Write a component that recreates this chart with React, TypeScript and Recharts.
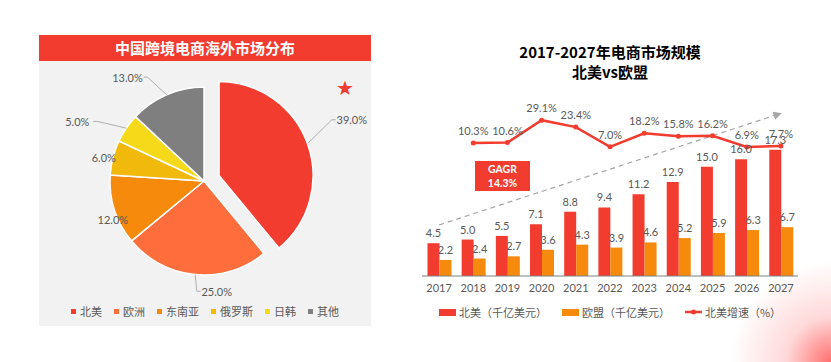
import {
  PieChart,
  Pie,
  Cell,
  Legend,
  ComposedChart,
  Bar,
  Line,
  XAxis,
  YAxis,
  LabelList,
  ReferenceLine,
} from "recharts";

// pie: overseas market shares (%)
const regions = ["北美", "欧洲", "东南亚", "俄罗斯", "日韩", "其他"];
const shares = [39, 25, 12, 6, 5, 13];
const regionColors = ["#f23c2f", "#fd6e3c", "#f58a0c", "#f1b90c", "#f6d918", "#7f7f7f"];

// bar/line: market size 2017-2027
const years = ["2017", "2018", "2019", "2020", "2021", "2022", "2023", "2024", "2025", "2026", "2027"];
const naSize = [4.5, 5.0, 5.5, 7.1, 8.8, 9.4, 11.2, 12.9, 15.0, 16.0, 17.3];
const euSize = [2.2, 2.4, 2.7, 3.6, 4.3, 3.9, 4.6, 5.2, 5.9, 6.3, 6.7];
const naGrowth = [null, 10.3, 10.6, 29.1, 23.4, 7.0, 18.2, 15.8, 16.2, 6.9, 7.7];
const seriesNames = ["北美（千亿美元）", "欧盟（千亿美元）", "北美增速（%）"];
const cagrText = ["GAGR", "14.3%"];
// dashed trend arrow (left axis values)
const trendStart = 7.0;
const trendEnd = 22.3;

// label placement for pie (radius from centre, angle shift in degrees)
const labelRadius = [144, 111, 99, 103, 140, 129];
const labelShift = [3, 12, 5, 1, 9, 13];

const RED = "#f23c2f";
const ORANGE = "#f58a0c";
const GREY = "#595959";
const NUM_FONT = "Lato, 'Noto Sans CJK SC', sans-serif";
const CJK_FONT = "'Noto Sans CJK SC', sans-serif";
const RAD = Math.PI / 180;

const pieRest = regions.slice(1).map((name, i) => ({ name, value: shares[i + 1] }));
const pieMain = [{ name: regions[0], value: shares[0] }];
const mainSweep = (360 * shares[0]) / 100;

const barData = years.map((year, i) => ({
  year,
  na: naSize[i],
  eu: euSize[i],
  growth: naGrowth[i],
}));

const PIE_CX = 165;
const PIE_CY = 120;
const PIE_R = 94;
const EXPLODE = 16;
const mainMid = 90 - mainSweep / 2;

const renderPieLabel = (props: any) => {
  const { cx, cy, midAngle, outerRadius, value } = props;
  const name = props.name ?? props.payload?.name;
  const idx = regions.indexOf(name);
  const r = labelRadius[idx];
  const a = midAngle + labelShift[idx];
  const lx = cx + r * Math.cos(-a * RAD);
  const ly = cy + r * Math.sin(-a * RAD);
  const right = lx > cx;
  const sx = cx + outerRadius * Math.cos(-midAngle * RAD);
  const sy = cy + outerRadius * Math.sin(-midAngle * RAD);
  const ex = right ? lx - 16 : lx + 16;
  const elx = right ? ex - 4 : ex + 4;
  return (
    <g>
      {r - outerRadius > 12 && (
        <polyline
          points={`${sx},${sy} ${elx},${ly} ${ex},${ly}`}
          fill="none"
          stroke="#a6a6a6"
          strokeWidth={0.9}
        />
      )}
      <text
        x={lx}
        y={ly}
        textAnchor="middle"
        dominantBaseline="central"
        fill={GREY}
        fontSize={11}
        fontFamily={NUM_FONT}
      >
        {`${Number(value).toFixed(1)}%`}
      </text>
    </g>
  );
};

const PieLegend = ({ payload }: any) => {
  const items = [...(payload || [])].sort(
    (a: any, b: any) => regions.indexOf(a.value) - regions.indexOf(b.value)
  );
  return (
    <div style={{ display: "flex", justifyContent: "center", alignItems: "center" }}>
      {items.map((p: any, i: number) => (
        <div
          key={p.value}
          style={{ display: "flex", alignItems: "center", marginLeft: i ? 12 : 0 }}
        >
          <span style={{ width: 5, height: 5, background: p.color, marginRight: 4 }} />
          <span style={{ fontSize: 11, color: GREY, fontFamily: CJK_FONT }}>{p.value}</span>
        </div>
      ))}
    </div>
  );
};

const BarLegend = ({ payload }: any) => {
  const items = [...(payload || [])].sort(
    (a: any, b: any) => seriesNames.indexOf(a.value) - seriesNames.indexOf(b.value)
  );
  return (
    <div style={{ display: "flex", justifyContent: "center", alignItems: "center" }}>
      {items.map((p: any, i: number) => (
        <div
          key={p.value}
          style={{ display: "flex", alignItems: "center", marginLeft: i ? 15 : 0 }}
        >
          {p.type === "line" ? (
            <svg width={17} height={8} style={{ marginRight: 3 }}>
              <line x1={0} y1={4} x2={17} y2={4} stroke={p.color} strokeWidth={2.5} />
              <circle cx={8.5} cy={4} r={2.5} fill={p.color} />
            </svg>
          ) : (
            <span style={{ width: 17, height: 7, background: p.color, marginRight: 3 }} />
          )}
          <span style={{ fontSize: 11, color: GREY, fontFamily: CJK_FONT }}>{p.value}</span>
        </div>
      ))}
    </div>
  );
};

export default function App() {
  return (
    <div
      style={{
        position: "absolute",
        left: 0,
        top: 0,
        width: 831,
        height: 362,
        overflow: "hidden",
        background:
          "radial-gradient(circle at 100% 100%, rgba(255,95,95,0.9) 0px, rgba(255,170,170,0.45) 45px, rgba(255,255,255,0) 100px), #fff",
        fontFamily: CJK_FONT,
      }}
    >
      {/* left panel */}
      <div
        style={{
          position: "absolute",
          left: 39,
          top: 35,
          width: 332,
          height: 291,
          background: "#f2f2f2",
        }}
      />
      <div
        style={{
          position: "absolute",
          left: 39,
          top: 35,
          width: 332,
          height: 26,
          background: RED,
          color: "#fff",
          fontWeight: 700,
          fontSize: 15,
          lineHeight: "26px",
          textAlign: "center",
        }}
      >
        中国跨境电商海外市场分布
      </div>
      <div
        style={{
          position: "absolute",
          left: 336,
          top: 78,
          fontSize: 20,
          lineHeight: 1,
          color: RED,
          fontFamily: "'DejaVu Sans', sans-serif",
        }}
      >
        ★
      </div>
      <div style={{ position: "absolute", left: 39, top: 61 }}>
        <PieChart width={332} height={265} margin={{ top: 0, right: 0, bottom: 0, left: 0 }}>
          <Pie
            data={pieMain}
            dataKey="value"
            nameKey="name"
            cx={PIE_CX + EXPLODE * Math.cos(mainMid * RAD)}
            cy={PIE_CY - EXPLODE * Math.sin(mainMid * RAD)}
            outerRadius={PIE_R}
            startAngle={90}
            endAngle={90 - mainSweep}
            stroke="#fff"
            strokeWidth={1.5}
            label={renderPieLabel}
            labelLine={false}
            isAnimationActive={false}
          >
            <Cell fill={regionColors[0]} />
          </Pie>
          <Pie
            data={pieRest}
            dataKey="value"
            nameKey="name"
            cx={PIE_CX}
            cy={PIE_CY}
            outerRadius={PIE_R}
            startAngle={90 - mainSweep}
            endAngle={-270}
            stroke="#fff"
            strokeWidth={1.5}
            label={renderPieLabel}
            labelLine={false}
            isAnimationActive={false}
          >
            {pieRest.map((d, i) => (
              <Cell key={d.name} fill={regionColors[i + 1]} />
            ))}
          </Pie>
          <Legend
            verticalAlign="middle"
            content={<PieLegend />}
            wrapperStyle={{ top: 242, left: 0, width: 332 }}
          />
        </PieChart>
      </div>

      {/* right panel */}
      <div
        style={{
          position: "absolute",
          left: 412,
          top: 42,
          width: 396,
          textAlign: "center",
          fontWeight: 700,
          fontSize: 15,
          lineHeight: "20px",
          color: "#000",
        }}
      >
        <div>2017-2027年电商市场规模</div>
        <div>北美vs欧盟</div>
      </div>
      <div style={{ position: "absolute", left: 412, top: 90 }}>
        <ComposedChart
          width={396}
          height={240}
          data={barData}
          margin={{ top: 11, right: 10, bottom: 24, left: 10 }}
          barCategoryGap="16%"
          barGap={0}
        >
          <defs>
            <marker
              id="trendArrow"
              viewBox="0 0 10 10"
              refX="9"
              refY="5"
              markerWidth="7"
              markerHeight="7"
              orient="auto"
            >
              <path d="M0,0 L10,5 L0,10 z" fill="#a6a6a6" />
            </marker>
          </defs>
          <XAxis
            dataKey="year"
            axisLine={{ stroke: "#808080" }}
            tickLine={false}
            tick={{ fill: GREY, fontSize: 11, fontFamily: NUM_FONT }}
            height={30}
          />
          <YAxis yAxisId="left" hide domain={[0, 24]} />
          <YAxis yAxisId="right" orientation="right" hide domain={[-100, 45]} />
          <ReferenceLine
            yAxisId="left"
            segment={[
              { x: years[0], y: trendStart },
              { x: years[years.length - 1], y: trendEnd },
            ]}
            stroke="#a6a6a6"
            strokeWidth={1.2}
            strokeDasharray="5 4"
            markerEnd="url(#trendArrow)"
            ifOverflow="visible"
          />
          <Bar yAxisId="left" dataKey="na" name={seriesNames[0]} fill={RED} isAnimationActive={false}>
            <LabelList
              dataKey="na"
              position="top"
              offset={6}
              fill={GREY}
              fontSize={11}
              fontFamily={NUM_FONT}
              formatter={(v: any) => Number(v).toFixed(1)}
            />
          </Bar>
          <Bar yAxisId="left" dataKey="eu" name={seriesNames[1]} fill={ORANGE} isAnimationActive={false}>
            <LabelList
              dataKey="eu"
              position="top"
              offset={6}
              fill={GREY}
              fontSize={11}
              fontFamily={NUM_FONT}
              formatter={(v: any) => Number(v).toFixed(1)}
            />
          </Bar>
          <Line
            yAxisId="right"
            dataKey="growth"
            name={seriesNames[2]}
            stroke={RED}
            strokeWidth={2.5}
            dot={{ r: 2.5, fill: RED, stroke: RED, strokeWidth: 0 }}
            activeDot={false}
            isAnimationActive={false}
          >
            <LabelList
              dataKey="growth"
              position="top"
              offset={8}
              fill={GREY}
              fontSize={11}
              fontFamily={NUM_FONT}
              formatter={(v: any) => (v == null ? "" : `${Number(v).toFixed(1)}%`)}
            />
          </Line>
          <Legend
            verticalAlign="middle"
            content={<BarLegend />}
            wrapperStyle={{ top: 214, left: 0, width: 396 }}
          />
        </ComposedChart>
      </div>
      <div
        style={{
          position: "absolute",
          left: 475,
          top: 161,
          width: 55,
          height: 30,
          background: RED,
          color: "#fff",
          fontWeight: 700,
          fontSize: 10.5,
          lineHeight: "14px",
          textAlign: "center",
          paddingTop: 1,
          boxSizing: "border-box",
          fontFamily: NUM_FONT,
        }}
      >
        <div>{cagrText[0]}</div>
        <div>{cagrText[1]}</div>
      </div>
    </div>
  );
}
